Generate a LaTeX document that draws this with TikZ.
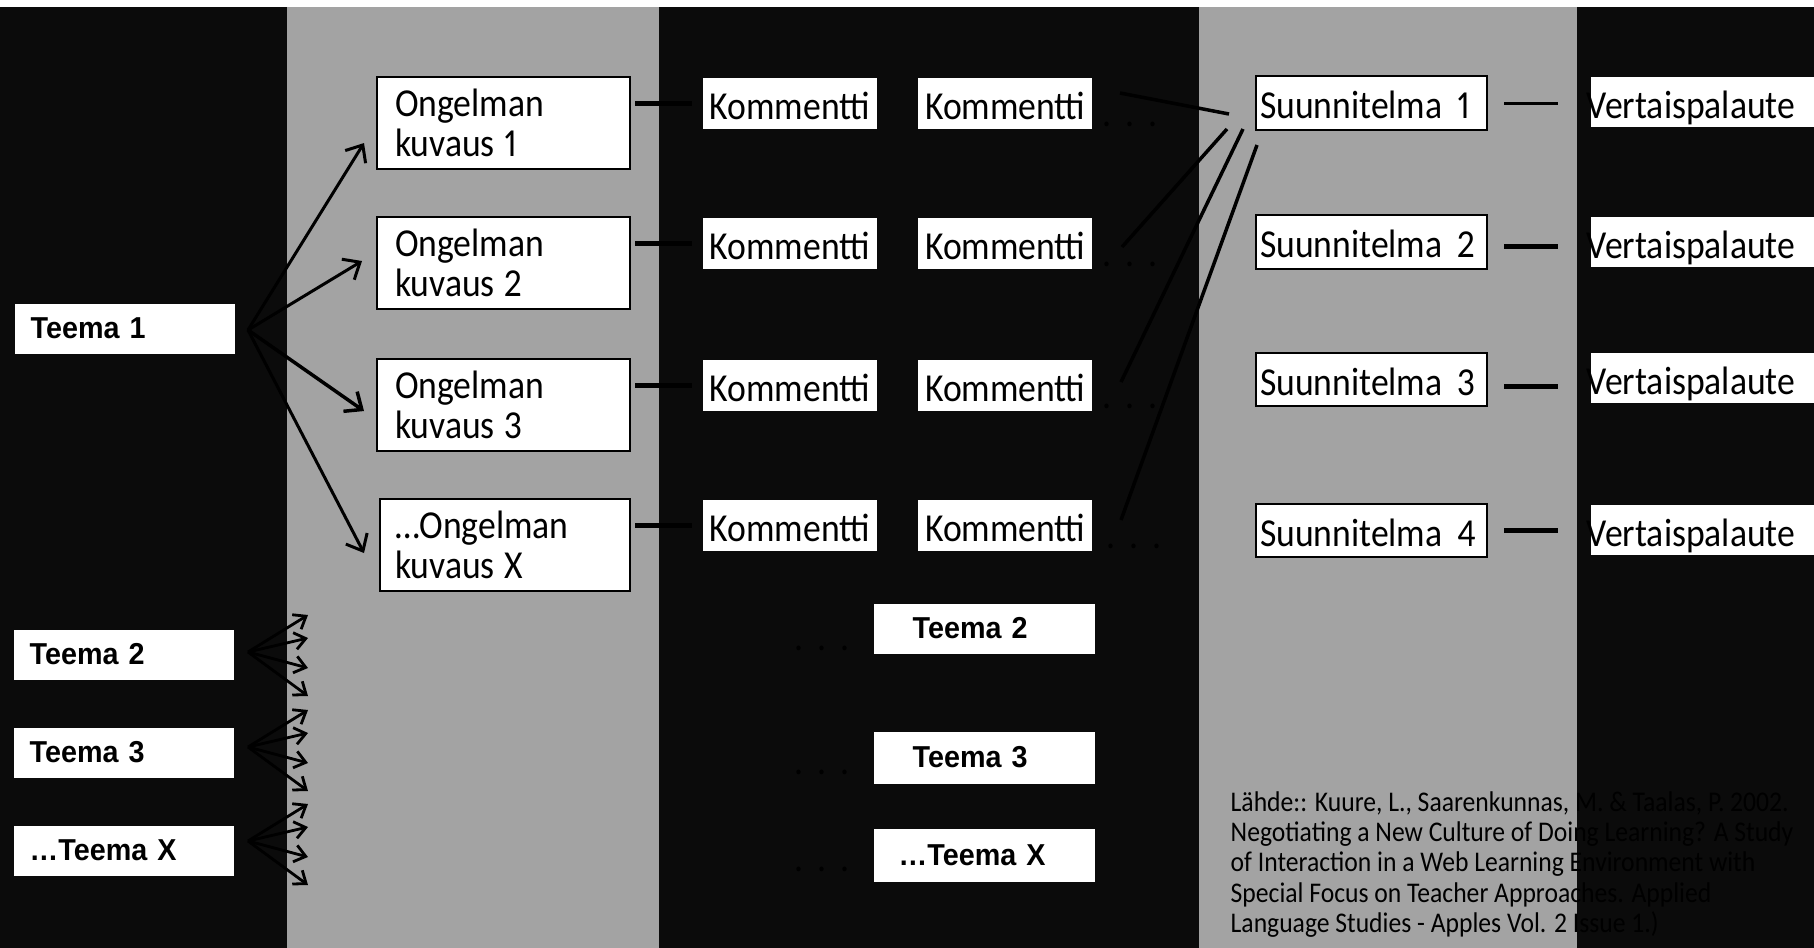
\documentclass[tikz,border=0pt]{standalone}
\usepackage{fontspec}
\setmainfont{Carlito}[FakeStretch=0.9, Numbers=Proportional]
\newfontfamily\teemafont{Liberation Sans}[FakeStretch=0.95]
\newfontfamily\lahdefont{Carlito}[FakeStretch=0.9]
\usepackage{tikz}
\usetikzlibrary{ arrows.meta, calc, positioning }

\definecolor{paneldark}{HTML}{0B0B0B}
\definecolor{panelgray}{HTML}{A3A3A3}

\newcommand{\boxtext}{\fontsize{11.27pt}{11.38pt}\selectfont}
\newcommand{\teematext}{\teemafont\bfseries\fontsize{8.6pt}{10pt}\selectfont}
\newcommand{\lahdetext}{\lahdefont\fontsize{8.1pt}{8.6pt}\selectfont}
\newcommand{\pisteet}{.\hspace{0.14cm}.\hspace{0.14cm}.}

\tikzset{
>={Straight Barb[length=0.14cm,width=0.24cm]}, % open arrow heads
every node/.style={inner sep=0pt},
box/.style={fill=white, font=\boxtext},
framed/.style={draw=black, line width=0.02cm},
tiivis/.style={execute at begin node={\spaceskip=0.10cm\relax}}, % tighter word space
teema/.style={box, font=\teematext, text width=1.88cm, inner xsep=0.16cm, minimum height=0.50cm, text height=0.20cm, text depth=0cm, align=left, anchor=north west},
ongelma/.style={box, framed, tiivis, text width=2.17cm, inner xsep=0.18cm, minimum height=0.92cm, align=left, anchor=north west},
kommentti/.style={box, minimum width=1.74cm, minimum height=0.51cm, text height=0.32cm, text depth=0cm, anchor=north west},
suunnitelma/.style={box, framed, tiivis, text width=2.23cm, inner xsep=0.04cm, minimum height=0.53cm, text height=0.31cm, text depth=0cm, align=left, anchor=west},
palaute/.style={box, text width=2.24cm, minimum height=0.50cm, text height=0.32cm, text depth=0cm, align=left, anchor=west},
pisteet/.style={font=\boxtext, text=black},
link/.style={line width=0.05cm},
haara/.style={line width=0.035cm},
nuoli/.style={->, line width=0.03cm},
pikkunuoli/.style={-{Straight Barb[length=0.11cm,width=0.17cm]}, line width=0.028cm},
}

\begin{document}
\begin{tikzpicture}[x=0.01cm, y=-0.01cm]
  \useasboundingbox (0,0) rectangle (1814,948);
  % background columns
  \fill[white] (0,0) rectangle (1814,948);
  \fill[paneldark] (0,7) rectangle (287,948);
  \fill[panelgray] (287,7) rectangle (659,948);
  \fill[paneldark] (659,7) rectangle (1199,948);
  \fill[panelgray] (1199,7) rectangle (1577,948);
  \fill[paneldark] (1577,7) rectangle (1814,948);

  \node[teema] (t1) at (14,303) {Teema 1};
  \node[teema] (t2) at (13,629) {Teema 2};
  \node[teema] (t3) at (13,727) {Teema 3};
  \node[teema] (tx) at (13,825) {…Teema X};

  \node[ongelma] (o1) at (376,76) {Ongelman\\kuvaus 1};
  \node[ongelma] (o2) at (376,216) {Ongelman\\kuvaus 2};
  \node[ongelma] (o3) at (376,358) {Ongelman\\kuvaus 3};
  \node[ongelma, text width=2.20cm, inner xsep=0.15cm] (ox) at (379,498) {…Ongelman\\kuvaus X};

  \node[kommentti] (k11) at (702,77) {Kommentti};
  \node[kommentti, right=0.40cm of k11] (k12) {Kommentti};
  \node[kommentti] (k21) at (702,217) {Kommentti};
  \node[kommentti, right=0.40cm of k21] (k22) {Kommentti};
  \node[kommentti] (k31) at (702,359) {Kommentti};
  \node[kommentti, right=0.40cm of k31] (k32) {Kommentti};
  \node[kommentti] (k41) at (702,499) {Kommentti};
  \node[kommentti, right=0.40cm of k41] (k42) {Kommentti};

  \node[pisteet] (p1) at (1130,124) {\pisteet};
  \node[pisteet] (p2) at (1130,264) {\pisteet};
  \node[pisteet] (p3) at (1130,406) {\pisteet};
  \node[pisteet] (p4) at (1134,546) {\pisteet};

  \node[suunnitelma] (s1) at (1255,103) {Suunnitelma\hspace{0.05cm} 1};
  \node[suunnitelma] (s2) at (1255,242) {Suunnitelma\hspace{0.05cm} 2};
  \node[suunnitelma] (s3) at (1255,379.5) {Suunnitelma\hspace{0.05cm} 3};
  \node[suunnitelma] (s4) at (1255,530.5) {Suunnitelma\hspace{0.05cm} 4};

  \node[palaute] (v1) at (1590,102) {\hspace*{-0.04cm}Vertaispalaute};
  \node[palaute] (v2) at (1590,242) {\hspace*{-0.04cm}Vertaispalaute};
  \node[palaute] (v3) at (1590,378) {\hspace*{-0.04cm}Vertaispalaute};
  \node[palaute] (v4) at (1590,530) {\hspace*{-0.04cm}Vertaispalaute};

  \node[teema, text width=1.43cm, inner xsep=0.39cm] (b2) at (873,603) {Teema 2};
  \node[teema, text width=1.43cm, inner xsep=0.39cm, minimum height=0.52cm] (b3) at (873,731) {Teema 3};
  \node[teema, text width=1.71cm, inner xsep=0.25cm, minimum height=0.53cm] (bx) at (873,828) {…Teema X};
  \node[pisteet] (q2) at (822,648) {\pisteet};
  \node[pisteet] (q3) at (822,772) {\pisteet};
  \node[pisteet] (qx) at (822,869) {\pisteet};

  \node[font=\lahdetext, align=left, anchor=north west] (lahde) at (1230,791)
    {Lähde:: Kuure, L., Saarenkunnas, M. \& Taalas, P. 2002.\\
     Negotiating a New Culture of Doing Learning? A Study\\
     of Interaction in a Web Learning Environment with\\
     Special Focus on Teacher Approaches. Applied\\
     Language Studies - Apples Vol. 2 Issue 1.)};

  % arrows from Teema 1
  \coordinate (f1) at (248,330);
  \coordinate (n1) at ($(o1.west)+(-12,20)$);
  \coordinate (n2) at ($(o2.west)+(-14,-2)$);
  \coordinate (n3) at ($(o3.west)+(-12,6)$);
  \coordinate (nx) at ($(ox.west)+(-15,8)$);
  \path[nuoli]
  (f1) edge (n1)
  (f1) edge (n2)
  (f1) edge[line width=0.035cm] (n3)
  (f1) edge (nx);

  % short fans from the other themes
  \foreach \t/\y in {2/652,3/747,x/841}{
    \coordinate (f\t) at (248,\y);
    \foreach \dy in {-37,-14,16,44}
      \draw[pikkunuoli] (f\t) -- ++(60,\dy);
  }

  \path[link]
  (k11.west -| o1.east) edge[shorten <=0.04cm, shorten >=0.10cm] (k11.west)
  (k21.west -| o2.east) edge[shorten <=0.04cm, shorten >=0.10cm] (k21.west)
  (k31.west -| o3.east) edge[shorten <=0.04cm, shorten >=0.10cm] (k31.west)
  (k41.west -| ox.east) edge[shorten <=0.04cm, shorten >=0.10cm] (k41.west)
  (s1.east) edge[shorten <=0.16cm, shorten >=0.32cm, line width=0.03cm] (s1.east -| v1.west)
  ($(s2.east)+(0,4)$) edge[shorten <=0.16cm, shorten >=0.32cm] ($(s2.east -| v2.west)+(0,4)$)
  ($(s3.east)+(0,7)$) edge[shorten <=0.16cm, shorten >=0.32cm] ($(s3.east -| v3.west)+(0,7)$)
  (s4.east) edge[shorten <=0.16cm, shorten >=0.32cm] (s4.east -| v4.west);

  % comment threads joining plan 1
  \coordinate (h1) at (1120,93);
  \coordinate (h2) at (1122,247);
  \coordinate (h3) at (1121,382);
  \coordinate (h4) at (1121,520);
  \coordinate (g1) at (1229,114);
  \coordinate (g2) at (1227,129);
  \coordinate (g3) at (1243,129);
  \coordinate (g4) at (1257,145);
  \path[haara]
  (h1) edge (g1)
  (h2) edge (g2)
  (h3) edge (g3)
  (h4) edge (g4);
\end{tikzpicture}
\end{document}
